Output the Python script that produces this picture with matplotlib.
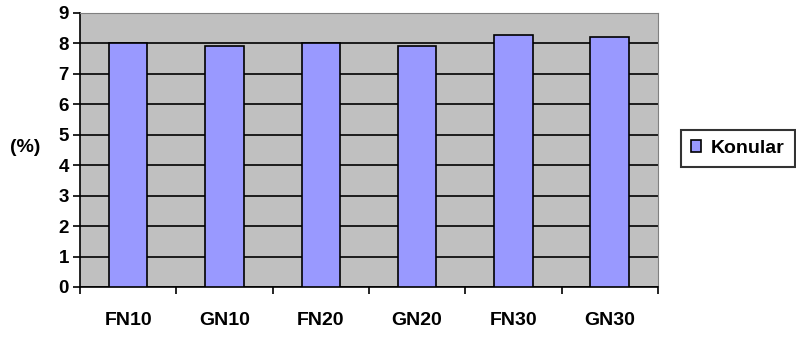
import matplotlib
matplotlib.use('Agg')
import matplotlib.pyplot as plt
import numpy as np

categories = ['FN10', 'GN10', 'FN20', 'GN20', 'FN30', 'GN30']
konular = [8.0, 7.93, 8.0, 7.93, 8.28, 8.2]
yticks = list(range(0, 10))

plt.rcParams['font.family'] = ['Liberation Sans', 'DejaVu Sans']
plt.rcParams['font.weight'] = 'bold'

fig = plt.figure(figsize=(7.96, 3.4), dpi=100)
ax = fig.add_axes([0.1005, 0.156, 0.726, 0.806])
ax.set_facecolor('#C0C0C0')

x = np.arange(len(categories))
ax.bar(x, konular, width=0.4, color='#9999FF', edgecolor='black', linewidth=1.2,
       label='Konular', zorder=3)

ax.set_xlim(-0.5, len(categories) - 0.5)
ax.set_ylim(0, 9)
ax.set_yticks(yticks)
ax.yaxis.grid(True, color='black', linewidth=1.2, zorder=1)
ax.set_axisbelow(True)

ax.set_xticks(x)
ax.set_xticklabels(categories, fontsize=14, fontweight='bold')
ax.tick_params(axis='x', length=0, pad=18)
ax.set_xticks(np.arange(-0.5, len(categories)), minor=True)
ax.tick_params(axis='x', which='minor', length=5, width=1.2, direction='out')
ax.tick_params(axis='y', length=5, width=1.2, direction='out', labelsize=13.5, pad=3)
for lab in ax.get_yticklabels():
    lab.set_fontweight('bold')

ax.spines['left'].set_color('black')
ax.spines['left'].set_linewidth(1.2)
ax.spines['bottom'].set_color('black')
ax.spines['bottom'].set_linewidth(1.2)
ax.spines['top'].set_color('#808080')
ax.spines['right'].set_color('#808080')

ax.set_ylabel('(%)', fontsize=14, fontweight='bold', rotation=0,
              va='center', ha='center')
ax.yaxis.set_label_coords(-0.095, 0.51)

leg = ax.legend(loc='center left', bbox_to_anchor=(1.04, 0.505), fontsize=14,
                frameon=True, fancybox=False, edgecolor='black',
                handlelength=0.55, handleheight=0.55, handletextpad=0.5,
                borderpad=0.5, borderaxespad=0)
leg.get_frame().set_linewidth(1.5)

fig.savefig('out.png', dpi=100)
